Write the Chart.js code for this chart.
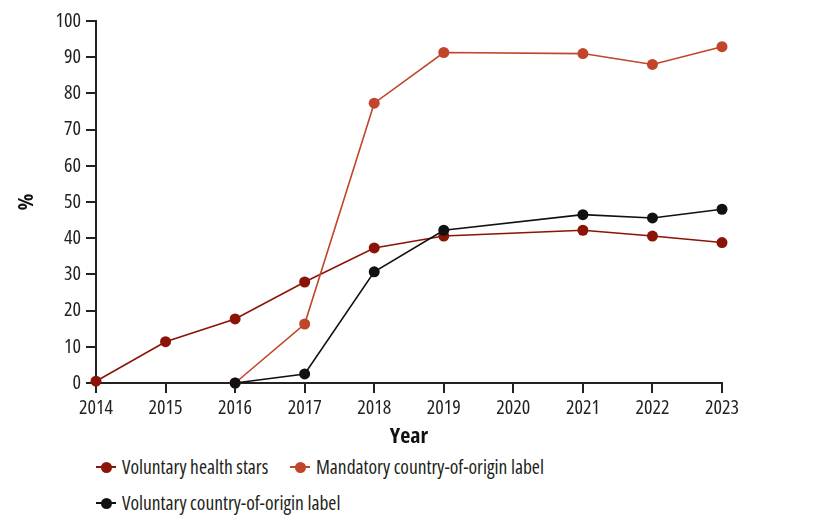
<!DOCTYPE html>
<html>
<head>
<meta charset="utf-8">
<script src="https://cdn.jsdelivr.net/npm/chart.js@4.4.1/dist/chart.umd.min.js"></script>
<style>
  body { margin: 0; background: #fff; font-family: "Open Sans", sans-serif; font-stretch: condensed; }
  #wrap { position: relative; width: 815px; height: 532px; }
  #box { position: absolute; left: 0; top: 0; width: 815px; height: 450px; }
  .leg { position: absolute; font-size: 19.5px; color: #231f20; white-space: nowrap; line-height: 20px; font-stretch: condensed; }
  .mk { display: inline-block; position: relative; width: 20px; height: 20px; vertical-align: top; margin-right: 6px; }
  .mk i { position: absolute; left: 0; top: 9px; width: 20px; height: 2px; }
  .mk b { position: absolute; left: 4.5px; top: 4.5px; width: 11px; height: 11px; border-radius: 50%; }
</style>
</head>
<body>
<div id="wrap">
  <div id="box"><canvas id="c"></canvas></div>
  <div id="legend"></div>
</div>
<script>
const years = ['2014', '2015', '2016', '2017', '2018', '2019', '2020', '2021', '2022', '2023'];
const healthStars = [0.5, 11.4, 17.7, 27.9, 37.3, 40.6, null, 42.2, 40.6, 38.8];
const mandatoryOrigin = [null, null, 0, 16.3, 77.3, 91.3, null, 91.0, 88.0, 92.9];
const voluntaryOrigin = [null, null, 0, 2.5, 30.7, 42.2, null, 46.5, 45.6, 48.0];
const yTicks = [0, 10, 20, 30, 40, 50, 60, 70, 80, 90, 100];

const series = [
  { label: 'Voluntary health stars', data: healthStars, color: '#8c1307', order: 3 },
  { label: 'Mandatory country-of-origin label', data: mandatoryOrigin, color: '#c0452a', order: 2 },
  { label: 'Voluntary country-of-origin label', data: voluntaryOrigin, color: '#111111', order: 1 }
];

const font = "'Open Sans', sans-serif";
const ink = '#231f20';

new Chart(document.getElementById('c'), {
  type: 'line',
  data: {
    labels: years,
    datasets: series.map(s => ({
      label: s.label,
      data: s.data,
      order: s.order,
      borderColor: s.color,
      backgroundColor: s.color,
      pointBackgroundColor: s.color,
      pointBorderColor: s.color,
      borderWidth: 1.6,
      pointRadius: 5.5,
      pointBorderWidth: 0,
      spanGaps: true,
      tension: 0,
      clip: false
    }))
  },
  options: {
    responsive: true,
    maintainAspectRatio: false,
    animation: false,
    layout: { padding: { top: 21, right: 93, left: 0, bottom: 0 } },
    plugins: { legend: { display: false }, tooltip: { enabled: false } },
    scales: {
      x: {
        offset: false,
        afterFit: s => { s.height = 67; },
        grid: { display: true, drawOnChartArea: false, drawTicks: true, tickLength: 10, color: '#222', lineWidth: 2 },
        border: { display: true, color: '#222', width: 2 },
        ticks: { color: ink, font: { family: font, size: 20, weight: 'condensed' }, padding: 3, maxRotation: 0, autoSkip: false },
        title: { display: true, text: 'Year', color: '#111', font: { family: font, size: 22, weight: 'bold condensed' }, padding: { top: 0, bottom: 0 } }
      },
      y: {
        min: 0,
        max: 100,
        afterFit: s => { s.width = 96; },
        afterBuildTicks: s => { s.ticks = yTicks.map(v => ({ value: v })); },
        grid: { display: true, drawOnChartArea: false, drawTicks: true, tickLength: 10, color: '#222', lineWidth: 2 },
        border: { display: true, color: '#222', width: 2 },
        ticks: { color: ink, font: { family: font, size: 20, weight: 'condensed' }, padding: 5 },
        title: { display: true, text: '%', color: '#111', font: { family: font, size: 22, weight: 'bold condensed' }, padding: { top: 14, bottom: 0 } }
      }
    }
  }
});

// legend built from the same series
const legendPos = [[96, 457], [290, 457], [96, 493]];
const legend = document.getElementById('legend');
series.forEach((s, i) => {
  const d = document.createElement('div');
  d.className = 'leg';
  d.style.left = legendPos[i][0] + 'px';
  d.style.top = legendPos[i][1] + 'px';
  d.innerHTML = '<span class="mk"><i style="background:' + s.color + '"></i><b style="background:' + s.color + '"></b></span>' + s.label;
  legend.appendChild(d);
});
</script>
</body>
</html>
